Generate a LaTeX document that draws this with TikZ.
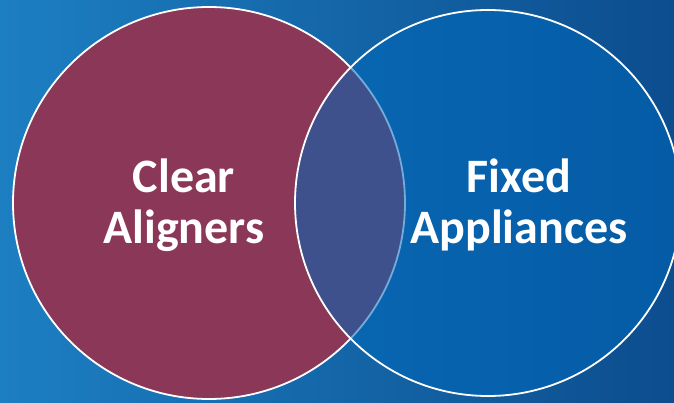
\documentclass[tikz,border=0pt]{standalone}
\usepackage{fontspec}
\setmainfont{Carlito}

\definecolor{bgleft}{HTML}{1C7FC2}
\definecolor{bgright}{HTML}{0C4D8E}
\definecolor{aligncol}{HTML}{8B3858}
\definecolor{fixedcol}{HTML}{0067BA}

\begin{document}
\begin{tikzpicture}[x=1pt, y=1pt,
    ring/.style={draw=white, line width=1.8pt},
    label/.style={text=white, font=\bfseries\fontsize{48}{51}\selectfont, align=center, inner sep=0pt}]
    % Background
    \useasboundingbox (0,0) rectangle (674,402);
    \shade[left color=bgleft, right color=bgright] (0,0) rectangle (674,402);

    % Circles
    \coordinate (leftc) at (209,199);
    \coordinate (rightc) at (488,199);
    \fill[aligncol] (leftc) circle (196);
    \draw[ring] (leftc) circle (196);
    \fill[fixedcol, fill opacity=0.55] (rightc) circle (193);
    \draw[ring] (rightc) circle (193);

    % Labels
    \node[label] (clear) at (184,197) {Clear\\Aligners};
    \node[label] (fixed) at (519,197) {Fixed\\Appliances};
\end{tikzpicture}
\end{document}
